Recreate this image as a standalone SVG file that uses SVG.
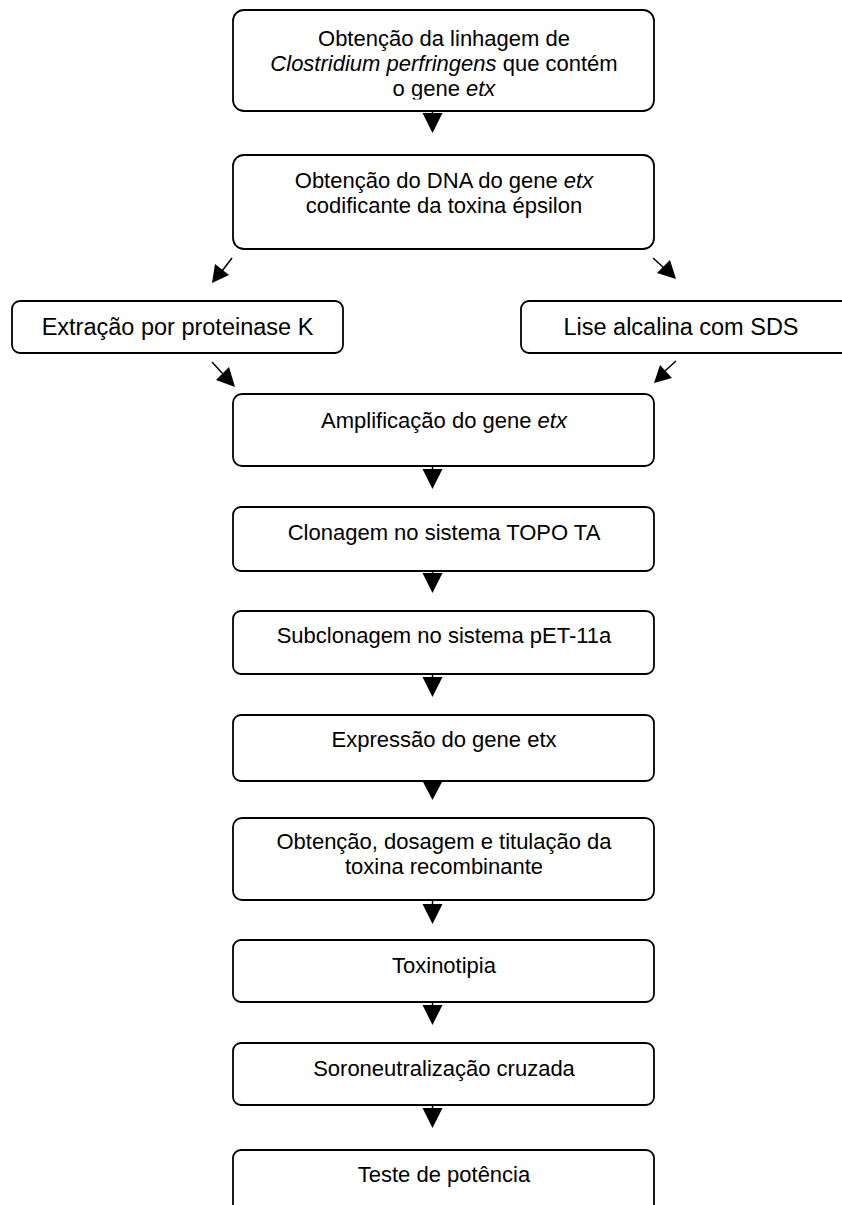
<svg xmlns="http://www.w3.org/2000/svg" width="842" height="1205" viewBox="0 0 842 1205">
<style>
.box{fill:#fff;stroke:#000;stroke-width:1.8}
.t{font-family:"Liberation Sans",Arial,sans-serif;font-size:22px;fill:#000;text-anchor:middle}
.s{font-size:23.5px}
.i{font-style:italic}
.ln{stroke:#000;stroke-width:1.5;fill:none}
.ah{fill:#000}
</style>
<defs>
<clipPath id="c1"><rect x="233" y="10" width="421" height="89.5"/></clipPath>
</defs>
<rect width="842" height="1205" fill="#fff"/>
<g id="connectors">
<line class="ln" x1="432.5" y1="111" x2="432.5" y2="118"/><path class="ah" d="M422.5 113 L442.5 113 L432.5 133 Z"/>
<line class="ln" x1="232" y1="258" x2="222" y2="271"/><path class="ah" d="M212 283 L215 264 L229 275 Z"/>
<line class="ln" x1="653" y1="258" x2="664" y2="268"/><path class="ah" d="M676 279 L657 273 L670 260 Z"/>
<line class="ln" x1="212" y1="362" x2="223" y2="374"/><path class="ah" d="M235 387 L216 380 L229 367 Z"/>
<line class="ln" x1="676" y1="361" x2="665" y2="371"/><path class="ah" d="M654 383 L660 365 L672 378 Z"/>
<line class="ln" x1="432.5" y1="466" x2="432.5" y2="474"/><path class="ah" d="M422.5 469 L442.5 469 L432.5 489 Z"/>
<line class="ln" x1="432.5" y1="571" x2="432.5" y2="578"/><path class="ah" d="M422.5 573 L442.5 573 L432.5 593 Z"/>
<line class="ln" x1="432.5" y1="674" x2="432.5" y2="682"/><path class="ah" d="M422.5 677 L442.5 677 L432.5 697 Z"/>
<line class="ln" x1="432.5" y1="781" x2="432.5" y2="786"/><path class="ah" d="M422.5 781 L442.5 781 L432.5 800 Z"/>
<line class="ln" x1="432.5" y1="900" x2="432.5" y2="909"/><path class="ah" d="M422.5 904 L442.5 904 L432.5 924 Z"/>
<line class="ln" x1="432.5" y1="1002" x2="432.5" y2="1010"/><path class="ah" d="M422.5 1005 L442.5 1005 L432.5 1025 Z"/>
<line class="ln" x1="432.5" y1="1105" x2="432.5" y2="1113"/><path class="ah" d="M422.5 1108 L442.5 1108 L432.5 1128 Z"/>
</g>
<g id="n1">
<rect class="box" x="233" y="10" width="421" height="101" rx="11"/>
<g clip-path="url(#c1)">
<text class="t" x="444" y="46">Obtenção da linhagem de</text>
<text class="t" x="444" y="71"><tspan class="i">Clostridium perfringens</tspan> que contém</text>
<text class="t" x="444" y="96">o gene <tspan class="i">etx</tspan></text>
</g>
</g>
<g id="n2">
<rect class="box" x="233" y="155" width="421" height="94" rx="11"/>
<text class="t" x="444" y="188">Obtenção do DNA do gene <tspan class="i">etx</tspan></text>
<text class="t" x="444" y="213">codificante da toxina épsilon</text>
</g>
<g id="n3">
<rect class="box" x="12" y="301" width="331" height="52" rx="8"/>
<text class="t s" x="177.5" y="335">Extração por proteinase K</text>
</g>
<g id="n4">
<rect class="box" x="521" y="301" width="340" height="52" rx="8"/>
<text class="t s" x="681" y="335">Lise alcalina com SDS</text>
</g>
<g id="n5">
<rect class="box" x="233" y="394" width="421" height="72" rx="9"/>
<text class="t" x="444" y="428">Amplificação do gene <tspan class="i">etx</tspan></text>
</g>
<g id="n6">
<rect class="box" x="233" y="507" width="421" height="64" rx="8"/>
<text class="t" x="444" y="540">Clonagem no sistema TOPO TA</text>
</g>
<g id="n7">
<rect class="box" x="233" y="611" width="421" height="63" rx="8"/>
<text class="t" x="444" y="643">Subclonagem no sistema pET-11a</text>
</g>
<g id="n8">
<rect class="box" x="233" y="715" width="421" height="66" rx="8"/>
<text class="t" x="444" y="747">Expressão do gene etx</text>
</g>
<g id="n9">
<rect class="box" x="233" y="818" width="421" height="82" rx="9"/>
<text class="t" x="444" y="849">Obtenção, dosagem e titulação da</text>
<text class="t" x="444" y="874">toxina recombinante</text>
</g>
<g id="n10">
<rect class="box" x="233" y="940" width="421" height="62" rx="8"/>
<text class="t" x="444" y="973">Toxinotipia</text>
</g>
<g id="n11">
<rect class="box" x="233" y="1043" width="421" height="62" rx="8"/>
<text class="t" x="444" y="1076">Soroneutralização cruzada</text>
</g>
<g id="n12">
<rect class="box" x="233" y="1150" width="421" height="80" rx="8"/>
<text class="t" x="444" y="1182">Teste de potência</text>
</g>
</svg>
